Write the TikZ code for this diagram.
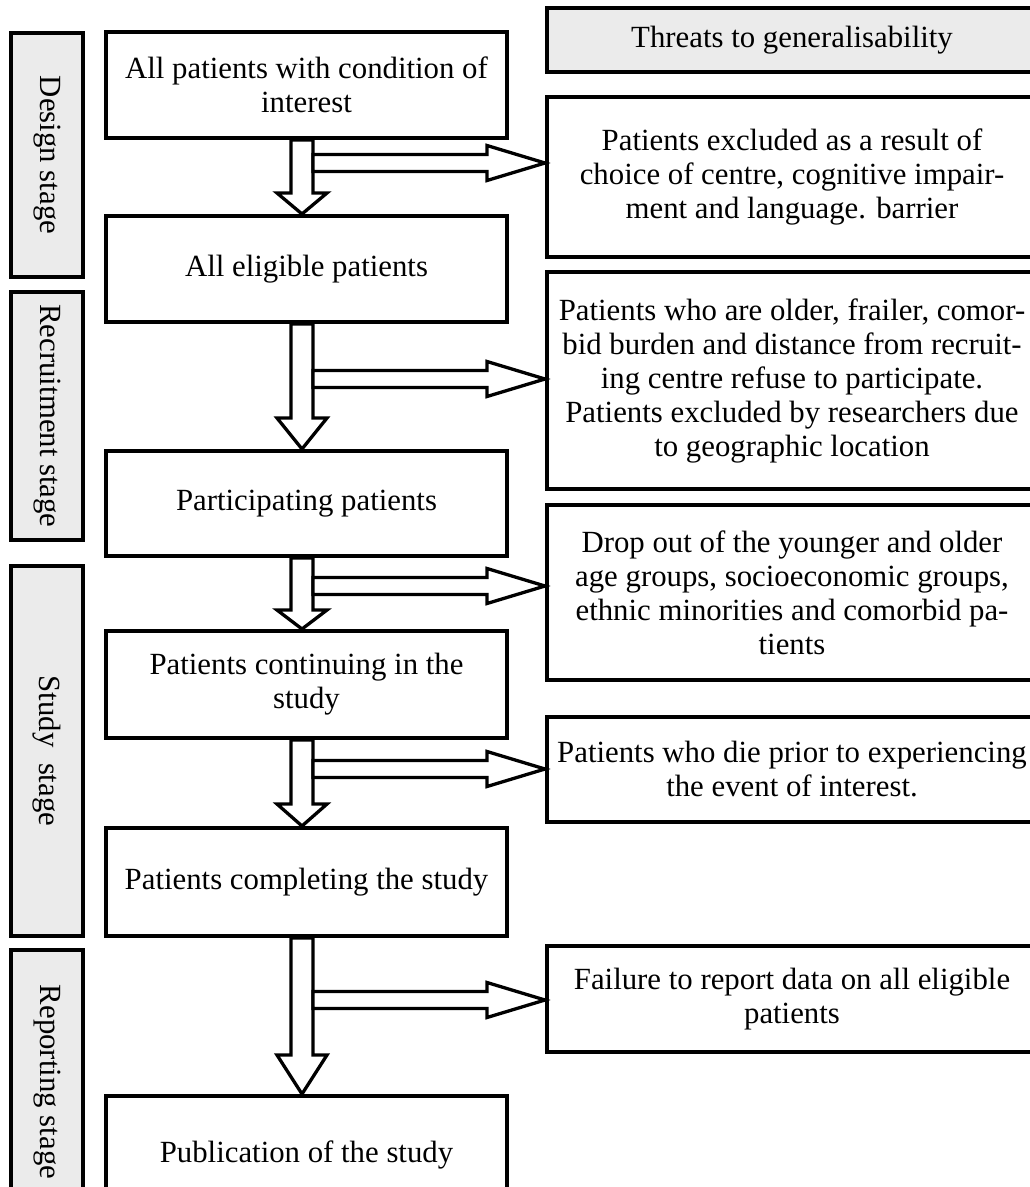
\documentclass[tikz,border=0pt]{standalone}
\usepackage{fontspec}
\setmainfont{Liberation Serif}
\definecolor{boxgray}{HTML}{EBEBEB}
\newcommand\DArr[3]{\draw[barrow] (291,0 |- #1.south) -- (313,0 |- #1.south) -- (313,#3) -- (327,#3) -- (302,0 |- #2.north) -- (277,#3) -- (291,#3) -- cycle;}
\newcommand\RArr[2]{\draw[barrow] (313,#2-8.5) -- (487,#2-8.5) -- (487,#2-17.5) -- (#1.west |- 0,#2) -- (487,#2+17.5) -- (487,#2+8.5) -- (313,#2+8.5) -- cycle;}
\begin{document}
\begin{tikzpicture}[x=1pt,y=-1pt,
  box/.style={draw=black, line width=4pt, fill=white, inner sep=0pt, align=center,
    font=\fontsize{30.8}{34}\selectfont},
  graybox/.style={box, fill=boxgray},
  stagebox/.style={graybox, rotate=-90, minimum height=72pt},
  mainbox/.style={box, minimum width=401pt},
  rightbox/.style={box, minimum width=490pt},
  barrow/.style={draw=black, line width=3.3pt, fill=white, line join=miter, miter limit=20}
]
\useasboundingbox[fill=white] (0,0) rectangle (1030,1187);

% stage boxes
\node[stagebox, minimum width=244pt] (s1) at (47,155) {Design stage};
\node[stagebox, minimum width=248pt] (s2) at (47,416) {Recruitment stage};
\node[stagebox, minimum width=370pt] (s3) at (47,751) {Study\ \ stage};
\node[stagebox, minimum width=264pt] (s4) at (47,1082) {Reporting stage};

% main boxes
\node[mainbox, minimum height=106pt] (b1) at (306.5,85) {All patients with condition of\\interest};
\node[mainbox, minimum height=106pt] (b2) at (306.5,269) {All eligible patients};
\node[mainbox, minimum height=105pt] (b3) at (306.5,503.5) {Participating patients};
\node[mainbox, minimum height=107pt] (b4) at (306.5,684.5) {Patients continuing in the\\study};
\node[mainbox, minimum height=108pt] (b5) at (306.5,882) {Patients completing the study};
\node[mainbox, minimum height=118pt] (b6) at (306.5,1155) {Publication of the study};

% right boxes
\node[rightbox, fill=boxgray, minimum height=64pt] (t) at (792,40) {Threats to generalisability};
\node[rightbox, minimum height=160pt] (r1) at (792,177) {Patients excluded as a result of\\choice of centre, cognitive impair-\\ment and language. barrier};
\node[rightbox, minimum height=217pt] (r2) at (792,380.5) {Patients who are older, frailer, comor-\\bid burden and distance from recruit-\\ing centre refuse to participate.\\Patients excluded by researchers due\\to geographic location};
\node[rightbox, minimum height=175pt] (r3) at (792,592.5) {Drop out of the younger and older\\age groups, socioeconomic groups,\\ethnic minorities and comorbid pa-\\tients};
\node[rightbox, minimum height=105pt] (r4) at (792,769.5) {Patients who die prior to experiencing\\the event of interest.};
\node[rightbox, minimum height=106pt] (r5) at (792,999) {Failure to report data on all eligible\\patients};

% down arrows
\DArr{b1}{b2}{193}
\DArr{b2}{b3}{418}
\DArr{b3}{b4}{610}
\DArr{b4}{b5}{804}
\DArr{b5}{b6}{1055}

% side arrows
\RArr{r1}{163}
\RArr{r2}{379}
\RArr{r3}{586}
\RArr{r4}{769}
\RArr{r5}{1000}
\end{tikzpicture}
\end{document}
